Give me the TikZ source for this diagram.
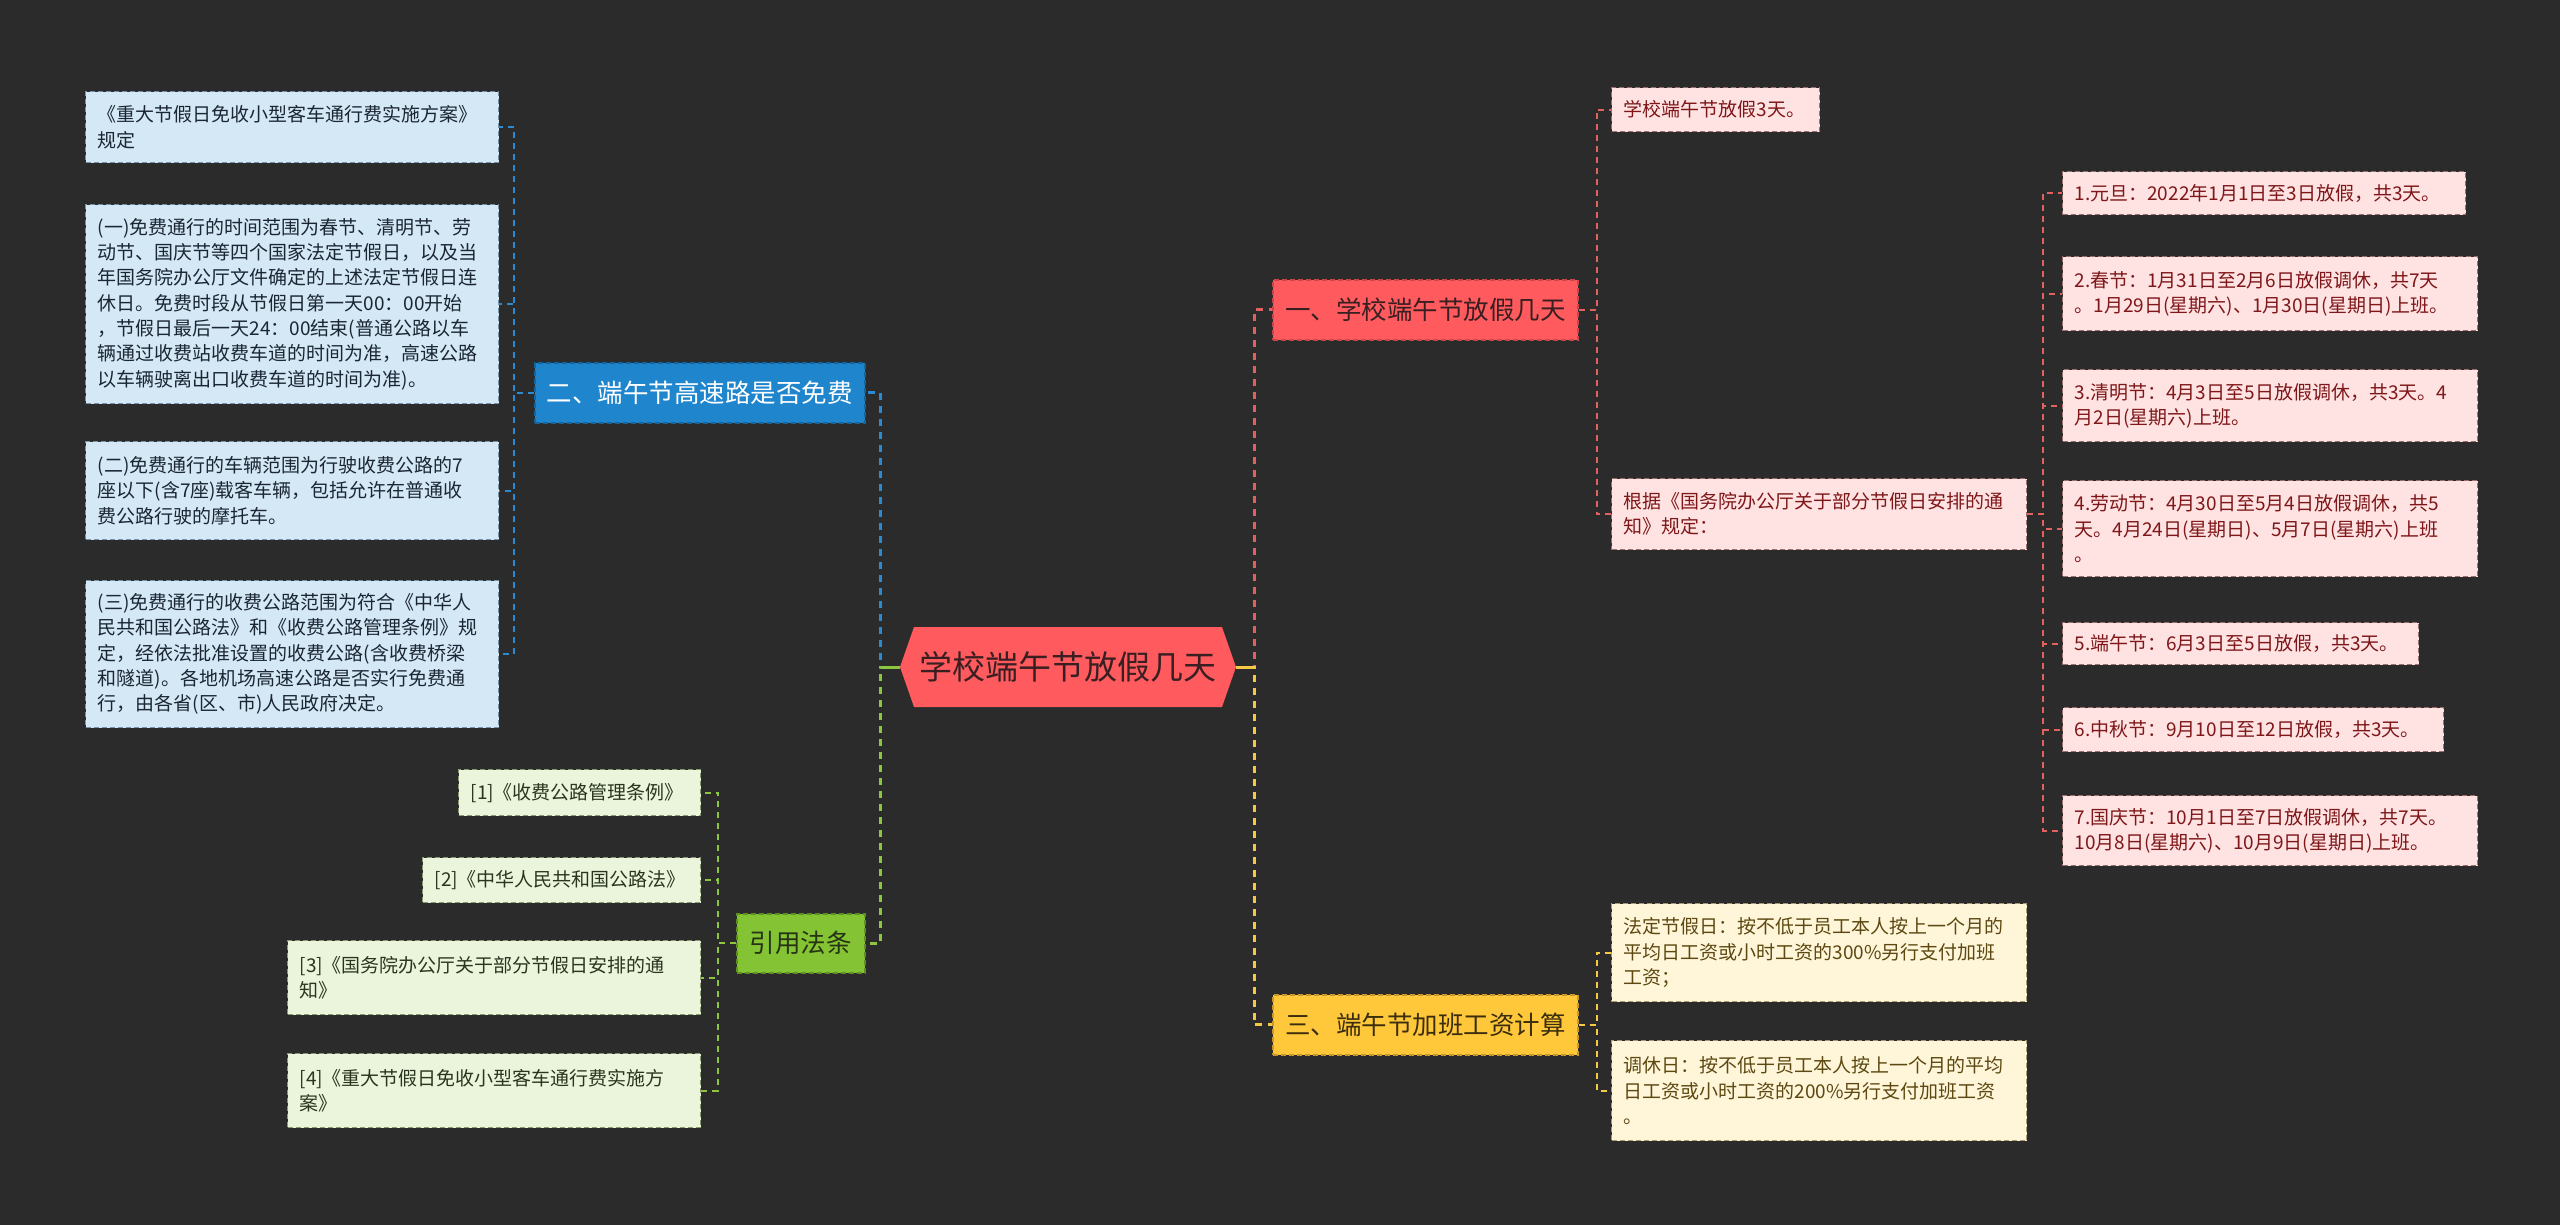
\documentclass[tikz,border=0pt]{standalone}
\usepackage{fontspec}
\setmainfont{Noto Sans CJK SC}
\definecolor{bgc}{HTML}{2B2B2B}
\definecolor{rootc}{HTML}{FF5B5E}
\definecolor{roott}{HTML}{3A1F22}
% red branch
\definecolor{rl1}{HTML}{FF5B5E}
\definecolor{rl1b}{HTML}{C94547}
\definecolor{rl1t}{HTML}{3A1F22}
\definecolor{rch}{HTML}{FFE2E2}
\definecolor{rchb}{HTML}{9C6F6F}
\definecolor{rcht}{HTML}{7E1719}
\definecolor{rcon}{HTML}{E4605F}
% blue branch
\definecolor{bl1}{HTML}{1F86CE}
\definecolor{bl1b}{HTML}{14649E}
\definecolor{bch}{HTML}{D5E8F5}
\definecolor{bchb}{HTML}{7893A9}
\definecolor{bcht}{HTML}{1B2633}
\definecolor{bcon}{HTML}{2A8AD2}
% green branch
\definecolor{gl1}{HTML}{84C334}
\definecolor{gl1b}{HTML}{5E9020}
\definecolor{gl1t}{HTML}{263314}
\definecolor{gch}{HTML}{EBF5DC}
\definecolor{gchb}{HTML}{8A9A70}
\definecolor{gcht}{HTML}{2A3520}
\definecolor{gcon}{HTML}{8CC63F}
% yellow branch
\definecolor{yl1}{HTML}{FFC73A}
\definecolor{yl1b}{HTML}{C8962A}
\definecolor{yl1t}{HTML}{3B2E0E}
\definecolor{ych}{HTML}{FFF6DA}
\definecolor{ychb}{HTML}{A89A70}
\definecolor{ycht}{HTML}{5C4810}
\definecolor{ycon}{HTML}{F6C945}
\begin{document}
\begin{tikzpicture}[x=1pt,y=-1pt,
  rootnode/.style={inner sep=0pt, minimum width=336pt, minimum height=80pt,
    text=roott, font=\fontsize{33}{40}\selectfont,
    path picture={\fill[rootc] (path picture bounding box.west)
      -- ([xshift=14pt]path picture bounding box.north west)
      -- ([xshift=-14pt]path picture bounding box.north east)
      -- (path picture bounding box.east)
      -- ([xshift=-14pt]path picture bounding box.south east)
      -- ([xshift=14pt]path picture bounding box.south west) -- cycle;}},
  lone/.style={anchor=north west, inner sep=0pt, minimum height=60pt, align=center,
    font=\fontsize{25.5}{30}\selectfont, draw, line width=1.5pt, dash pattern=on 5pt off 3pt},
  redone/.style={lone, fill=rl1, draw=rl1b, text=rl1t},
  blueone/.style={lone, fill=bl1, draw=bl1b, text=white},
  greenone/.style={lone, fill=gl1, draw=gl1b, text=gl1t},
  yellowone/.style={lone, fill=yl1, draw=yl1b, text=yl1t},
  cbox/.style={anchor=north west, inner xsep=12pt, inner ysep=0pt, align=left,
    font=\fontsize{19}{25.3}\selectfont, draw, line width=1.2pt, dash pattern=on 5pt off 3pt},
  redch/.style={cbox, fill=rch, draw=rchb, text=rcht},
  bluech/.style={cbox, fill=bch, draw=bchb, text=bcht},
  greench/.style={cbox, fill=gch, draw=gchb, text=gcht},
  yellowch/.style={cbox, fill=ych, draw=ychb, text=ycht},
  conone/.style={line width=3pt, dash pattern=on 7pt off 6pt},
  contwo/.style={line width=2pt, dash pattern=on 6pt off 5pt},
  solidpart/.style={line width=3pt, solid}
]
\fill[bgc] (0,0) rectangle (2560,1225);
\useasboundingbox (0,0) rectangle (2560,1225);

% root
\node[rootnode] (root) at (1068,667) {学校端午节放假几天};

% level one
\node[redone, minimum width=305pt] (n1) at (1272,279) {一、学校端午节放假几天};
\node[yellowone, minimum width=305pt] (n3) at (1272,994) {三、端午节加班工资计算};
\node[blueone, minimum width=330pt] (n2) at (534,362) {二、端午节高速路是否免费};
\node[greenone, minimum width=128pt, minimum height=59pt] (n4) at (736,913) {引用法条};

% red children
\node[redch, text width=184pt, minimum height=44pt] (r0) at (1611,87) {学校端午节放假3天。};
\node[redch, text width=391pt, minimum height=71pt] (r1) at (1611,478) {根据《国务院办公厅关于部分节假日安排的通\\知》规定：};
\node[redch, text width=379pt, minimum height=43pt] (h1) at (2062,171) {1.元旦：2022年1月1日至3日放假，共3天。};
\node[redch, text width=391pt, minimum height=74pt] (h2) at (2062,256) {2.春节：1月31日至2月6日放假调休，共7天\\。1月29日(星期六)、1月30日(星期日)上班。};
\node[redch, text width=391pt, minimum height=72pt] (h3) at (2062,369) {3.清明节：4月3日至5日放假调休，共3天。4\\月2日(星期六)上班。};
\node[redch, text width=391pt, minimum height=96pt] (h4) at (2062,480) {4.劳动节：4月30日至5月4日放假调休，共5\\天。4月24日(星期日)、5月7日(星期六)上班\\。};
\node[redch, text width=332pt, minimum height=42pt] (h5) at (2062,622) {5.端午节：6月3日至5日放假，共3天。};
\node[redch, text width=357pt, minimum height=44pt] (h6) at (2062,707) {6.中秋节：9月10日至12日放假，共3天。};
\node[redch, text width=391pt, minimum height=70pt] (h7) at (2062,795) {7.国庆节：10月1日至7日放假调休，共7天。\\10月8日(星期六)、10月9日(星期日)上班。};

% yellow children
\node[yellowch, text width=391pt, minimum height=98pt] (y1) at (1611,903) {法定节假日：按不低于员工本人按上一个月的\\平均日工资或小时工资的300\%另行支付加班\\工资；};
\node[yellowch, text width=391pt, minimum height=100pt] (y2) at (1611,1040) {调休日：按不低于员工本人按上一个月的平均\\日工资或小时工资的200\%另行支付加班工资\\。};

% blue children
\node[bluech, text width=389pt, minimum height=71pt] (ba) at (85,91) {《重大节假日免收小型客车通行费实施方案》\\规定};
\node[bluech, text width=389pt, minimum height=199pt] (bb) at (85,204) {(一)免费通行的时间范围为春节、清明节、劳\\动节、国庆节等四个国家法定节假日，以及当\\年国务院办公厅文件确定的上述法定节假日连\\休日。免费时段从节假日第一天00：00开始\\，节假日最后一天24：00结束(普通公路以车\\辆通过收费站收费车道的时间为准，高速公路\\以车辆驶离出口收费车道的时间为准)。};
\node[bluech, text width=389pt, minimum height=98pt] (bc) at (85,441) {(二)免费通行的车辆范围为行驶收费公路的7\\座以下(含7座)载客车辆，包括允许在普通收\\费公路行驶的摩托车。};
\node[bluech, text width=389pt, minimum height=147pt] (bd) at (85,580) {(三)免费通行的收费公路范围为符合《中华人\\民共和国公路法》和《收费公路管理条例》规\\定，经依法批准设置的收费公路(含收费桥梁\\和隧道)。各地机场高速公路是否实行免费通\\行，由各省(区、市)人民政府决定。};

% green children
\node[greench, text width=218pt, minimum height=46pt] (g1) at (458,769) {[1]《收费公路管理条例》};
\node[greench, text width=254pt, minimum height=45pt] (g2) at (422,857) {[2]《中华人民共和国公路法》};
\node[greench, text width=389pt, minimum height=74pt] (g3) at (287,940) {[3]《国务院办公厅关于部分节假日安排的通\\知》};
\node[greench, text width=389pt, minimum height=74pt] (g4) at (287,1053) {[4]《重大节假日免收小型客车通行费实施方\\案》};

% connectors from root
\draw[rcon, conone] (root.east) -- ++(18,0) |- (n1.west);
\draw[ycon, conone] (root.east) -- ++(18,0) |- (n3.west);
\draw[ycon, solidpart] (root.east) -- ++(18,0);
\draw[bcon, conone] (root.west) -- ++(-19,0) |- (n2.east);
\draw[gcon, conone] (root.west) -- ++(-19,0) |- (n4.east);
\draw[gcon, solidpart] (root.west) -- ++(-19,0);

% red level two
\foreach \c in {r0,r1} \draw[rcon, contwo] (n1.east) -- ++(18,0) |- (\c.west);
\foreach \c in {h1,h2,h3,h4,h5,h6,h7} \draw[rcon, contwo] (r1.east) -- ++(16,0) |- (\c.west);
% yellow level two
\foreach \c in {y1,y2} \draw[ycon, contwo] (n3.east) -- ++(18,0) |- (\c.west);
% blue level two
\foreach \c in {ba,bb,bc,bd} \draw[bcon, contwo] (n2.west) -- ++(-20,0) |- (\c.east);
% green level two
\foreach \c in {g1,g2,g3,g4} \draw[gcon, contwo] (n4.west) -- ++(-18,0) |- (\c.east);
\end{tikzpicture}
\end{document}
